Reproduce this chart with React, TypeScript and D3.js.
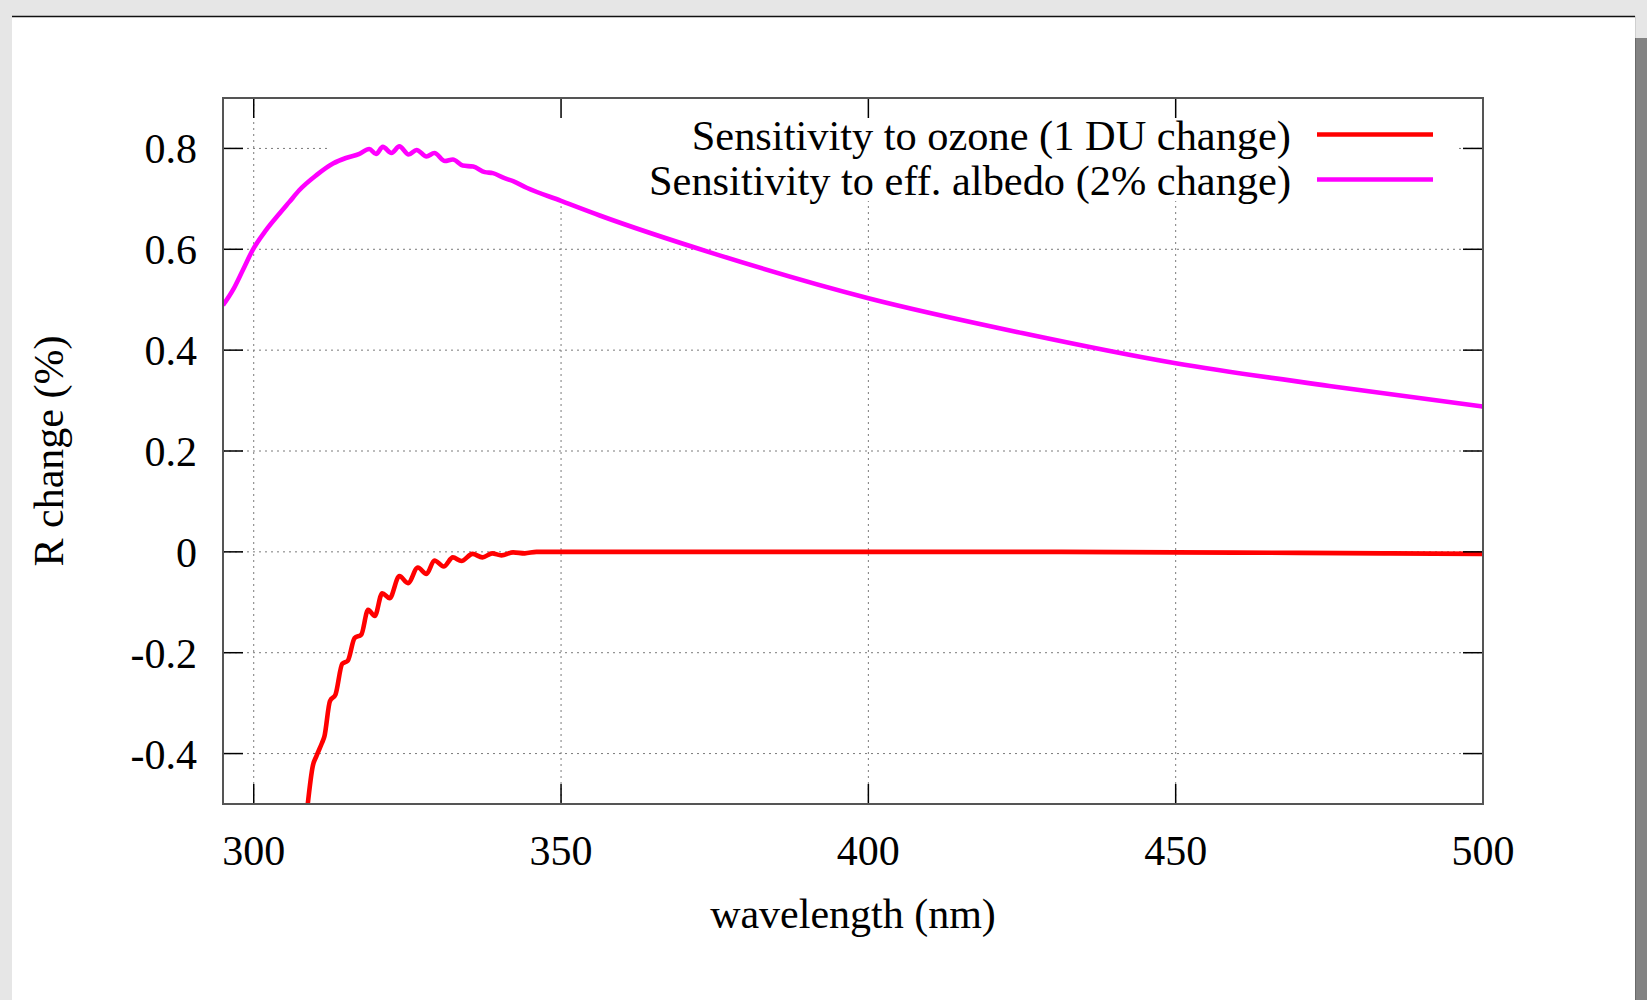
import React from 'react';
import * as d3 from 'd3';

const xTicks = [300, 350, 400, 450, 500];
const yTicks = [-0.4, -0.2, 0, 0.2, 0.4, 0.6, 0.8];
const yTickLabels = ['-0.4', '-0.2', '0', '0.2', '0.4', '0.6', '0.8'];

const seriesNames = ['Sensitivity to ozone (1 DU change)', 'Sensitivity to eff. albedo (2% change)'];
const seriesColors = ['#ff0000', '#ff00ff'];

const ozoneWl = [
  308.8, 309.6, 310.2, 311.1, 311.5, 312.4, 313.3, 314.4, 315.3, 316.4, 317.5,
  318.6, 319.7, 320.9, 322.1, 323.7, 325.1, 326.7, 328.1, 329.4, 330.9, 332.4,
  333.8, 335.6, 337.2, 338.8, 340.3, 342.2, 344.1, 346.0, 350, 375, 400, 425,
  450, 470, 485, 500,
];
const ozoneR = [
  -0.499, -0.425, -0.405, -0.379, -0.366, -0.296, -0.283, -0.222, -0.216, -0.171, -0.164,
  -0.115, -0.127, -0.082, -0.092, -0.048, -0.062, -0.031, -0.044, -0.017, -0.029, -0.011,
  -0.018, -0.004, -0.011, -0.003, -0.007, -0.001, -0.003, 0.0, 0.0, 0.0, 0.0, 0.0,
  -0.001, -0.002, -0.003, -0.004,
];

const albedoWl = [
  295.0, 296.6, 298.2, 299.8, 302.0, 304.2, 305.8, 307.4, 310.2, 312.9, 315.0,
  317.2, 318.8, 319.9, 321.0, 322.4, 323.7, 325.2, 326.5, 328.1, 329.4, 331.1,
  332.4, 334.0, 335.7, 337.6, 338.9, 340.6, 342.2, 344.4, 350.0, 356.3, 375,
  400, 425, 450, 475, 500,
];
const albedoR = [
  0.489, 0.519, 0.558, 0.598, 0.638, 0.671, 0.694, 0.717, 0.747, 0.770, 0.781,
  0.789, 0.799, 0.789, 0.803, 0.791, 0.804, 0.788, 0.797, 0.784, 0.791, 0.775,
  0.778, 0.766, 0.764, 0.753, 0.751, 0.742, 0.735, 0.722, 0.696, 0.667, 0.591,
  0.503, 0.434, 0.374, 0.329, 0.288,
];

const FONT = "'Liberation Serif', 'Times New Roman', Times, serif";

export default function App() {
  const W = 1647;
  const H = 1000;
  const x = d3.scaleLinear().domain([295, 500]).range([223, 1483]);
  const y = d3.scaleLinear().domain([-0.5, 0.9]).range([804, 98]);
  const [x0, x1] = x.range();
  const [y0, y1] = y.range();

  const series = [
    ozoneWl.map((w, i) => [w, ozoneR[i]] as [number, number]),
    albedoWl.map((w, i) => [w, albedoR[i]] as [number, number]),
  ];
  const line = d3
    .line<[number, number]>()
    .x((d) => x(d[0]))
    .y((d) => y(d[1]))
    .curve(d3.curveMonotoneX);

  const tickLen = 20;
  const legendRight = 1291;
  const legendLineX0 = 1317;
  const legendLineX1 = 1433;
  const legendY = [134.5, 179.5];

  return (
    <svg
      width={W}
      height={H}
      style={{ position: 'absolute', left: 0, top: 0, display: 'block' }}
      fontFamily={FONT}
    >
      <rect x={0} y={0} width={W} height={H} fill="#e6e6e6" />
      <rect x={12} y={16} width={1623} height={H - 16} fill="#ffffff" />
      <line x1={12} x2={1635} y1={16.5} y2={16.5} stroke="#111" strokeWidth={1.5} />
      <line x1={1635.5} x2={1635.5} y1={16} y2={38} stroke="#cfcfcf" strokeWidth={1} />
      <rect x={1635} y={38} width={12} height={H - 38} fill="#838383" />
      <line x1={1635.5} x2={1635.5} y1={38} y2={H} stroke="#6a6a6a" strokeWidth={1} />

      <defs>
        <clipPath id="plotclip">
          <rect x={x0} y={y1} width={x1 - x0} height={y0 - y1} />
        </clipPath>
      </defs>

      {/* grid */}
      <g stroke="#7a7a7a" strokeWidth={1} strokeDasharray="2,4">
        {xTicks.map((t) => (
          <line key={'gx' + t} x1={x(t)} x2={x(t)} y1={y1} y2={y0} />
        ))}
        {yTicks.map((t) => (
          <line key={'gy' + t} x1={x0} x2={x1} y1={y(t)} y2={y(t)} />
        ))}
      </g>

      {/* opaque key box */}
      <rect x={327} y={y1 + 1} width={1457 - 327} height={201 - y1 - 1} fill="#ffffff" />

      {/* curves */}
      <g clipPath="url(#plotclip)" fill="none" strokeWidth={4.6} strokeLinejoin="round">
        {series.map((s, i) => (
          <path key={'s' + i} d={line(s) || ''} stroke={seriesColors[i]} />
        ))}
      </g>

      {/* ticks */}
      <g stroke="#000" strokeWidth={1.5}>
        {xTicks.map((t) => (
          <g key={'tx' + t}>
            <line x1={x(t)} x2={x(t)} y1={y0} y2={y0 - tickLen} />
            <line x1={x(t)} x2={x(t)} y1={y1} y2={y1 + tickLen} />
          </g>
        ))}
        {yTicks.map((t) => (
          <g key={'ty' + t}>
            <line x1={x0} x2={x0 + tickLen} y1={y(t)} y2={y(t)} />
            <line x1={x1} x2={x1 - tickLen} y1={y(t)} y2={y(t)} />
          </g>
        ))}
      </g>

      {/* frame */}
      <rect x={x0} y={y1} width={x1 - x0} height={y0 - y1} fill="none" stroke="#555" strokeWidth={2} />

      {/* tick labels */}
      <g fontSize={42} fill="#000">
        {xTicks.map((t) => (
          <text key={'lx' + t} x={x(t)} y={y0 + 61} textAnchor="middle">
            {String(t)}
          </text>
        ))}
        {yTicks.map((t, i) => (
          <text key={'ly' + t} x={197} y={y(t) + 15} textAnchor="end">
            {yTickLabels[i]}
          </text>
        ))}
      </g>

      {/* axis labels */}
      <text x={(x0 + x1) / 2} y={928} textAnchor="middle" fontSize={42} fill="#000">
        wavelength (nm)
      </text>
      <text
        transform={`translate(63,${(y0 + y1) / 2}) rotate(-90)`}
        textAnchor="middle"
        fontSize={42}
        fill="#000"
      >
        R change (%)
      </text>

      {/* legend */}
      {seriesNames.map((name, i) => (
        <g key={'lg' + i}>
          <text x={legendRight} y={legendY[i] + 15} textAnchor="end" fontSize={42.4} fill="#000">
            {name}
          </text>
          <line
            x1={legendLineX0}
            x2={legendLineX1}
            y1={legendY[i]}
            y2={legendY[i]}
            stroke={seriesColors[i]}
            strokeWidth={4.6}
          />
        </g>
      ))}
    </svg>
  );
}
